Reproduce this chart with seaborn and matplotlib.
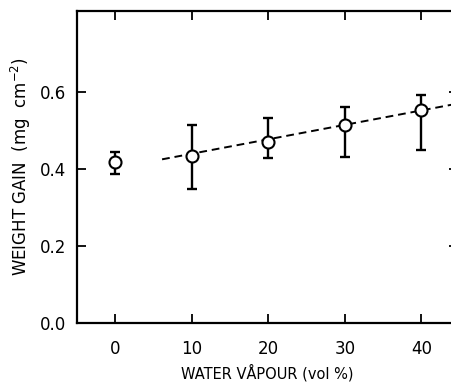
import matplotlib
matplotlib.use("Agg")
import matplotlib.pyplot as plt
import seaborn as sns
import numpy as np
import pandas as pd

water_vapour = [0, 10, 20, 30, 40]
weight_gain = [0.418, 0.434, 0.470, 0.514, 0.552]
err_upper = [0.444, 0.513, 0.532, 0.562, 0.593]
err_lower = [0.388, 0.348, 0.429, 0.431, 0.450]
fit_x = [6.1, 46]
fit_intercept = 0.402
fit_slope = 0.00375
x_ticks = [0, 10, 20, 30, 40]
y_ticks = [0.0, 0.2, 0.4, 0.6]
y_tick_labels = ["0.0", "0.2", "0.4", "0.6"]

sns.set_style("ticks")
plt.rcParams['font.family'] = ['DejaVu Sans']

fig = plt.figure(figsize=(4.51, 3.83), dpi=100)
ax = fig.add_axes([0.171, 0.157, 0.845, 0.814])

df = pd.DataFrame({"x": water_vapour, "y": weight_gain})
yerr = np.array([np.array(weight_gain) - np.array(err_lower),
                 np.array(err_upper) - np.array(weight_gain)])
ax.errorbar(water_vapour, weight_gain, yerr=yerr, fmt="none", ecolor="black",
            elinewidth=1.7, capsize=3.5, capthick=1.7, zorder=2)

fit_df = pd.DataFrame({"x": fit_x,
                       "y": [fit_intercept + fit_slope * v for v in fit_x]})
sns.lineplot(data=fit_df, x="x", y="y", ax=ax, color="black", linewidth=1.4,
             linestyle=(0, (4, 2.5)), zorder=1)

sns.scatterplot(data=df, x="x", y="y", ax=ax, s=75, marker="o",
                facecolor="white", edgecolor="black", linewidth=1.5, zorder=3)

ax.set_xlim(-5, 44.8)
ax.set_ylim(0, 0.81)
ax.set_xticks(x_ticks)
ax.set_yticks(y_ticks)
ax.set_yticklabels(y_tick_labels)
ax.tick_params(direction="in", top=True, right=True, length=6.5, width=1.3,
               labelsize=12, colors="black")
ax.tick_params(axis="x", pad=12)
ax.tick_params(axis="y", pad=8)
for sp in ax.spines.values():
    sp.set_linewidth(1.6)
    sp.set_color("black")
ax.set_xlabel("WATER VÅPOUR (vol %)", fontsize=10.5, labelpad=5, color="black")
ax.set_ylabel("WEIGHT GAIN  (mg  cm$^{-2}$)", fontsize=12, labelpad=5,
              color="black")

fig.savefig("out.png", dpi=100)
